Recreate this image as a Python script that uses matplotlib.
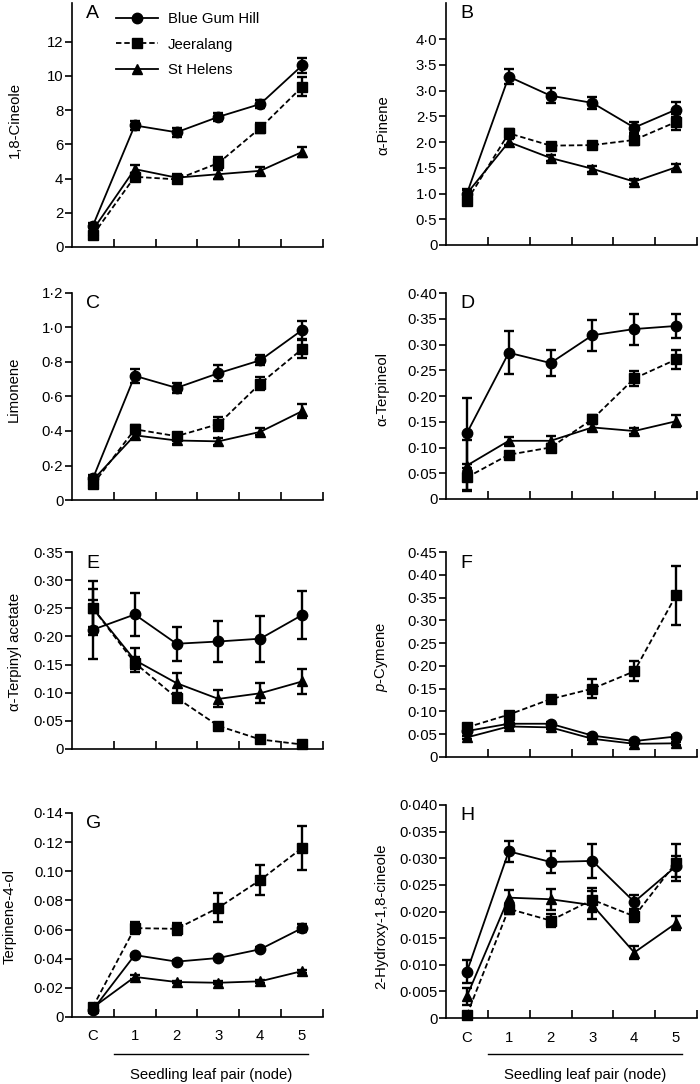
import matplotlib
matplotlib.use("Agg")
import matplotlib.pyplot as plt
import matplotlib.transforms as mtransforms
from matplotlib.lines import Line2D

plt.rcParams.update({
    'font.family': ['Liberation Sans', 'DejaVu Sans'],
    'font.size': 10.7,
    'mathtext.fontset': 'custom',
    'mathtext.it': 'Liberation Sans:italic',
    'mathtext.rm': 'Liberation Sans',
    'axes.linewidth': 1.2,
})

nodes = ['C', '1', '2', '3', '4', '5']
sites = ['Blue Gum Hill', 'Jeeralang', 'St Helens']

# rows: Blue Gum Hill, Jeeralang, St Helens
cineole_mean = [[1.25, 7.1, 6.7, 7.6, 8.35, 10.6],
                [0.7, 4.1, 3.95, 4.9, 6.95, 9.35],
                [1.0, 4.55, 4.05, 4.25, 4.45, 5.55]]
cineole_se = [[0.15, 0.25, 0.25, 0.25, 0.25, 0.45],
              [0.15, 0.2, 0.2, 0.35, 0.3, 0.55],
              [0.15, 0.25, 0.2, 0.25, 0.25, 0.3]]

pinene_mean = [[1.0, 3.27, 2.9, 2.76, 2.28, 2.63],
               [0.86, 2.17, 1.93, 1.94, 2.04, 2.39],
               [1.0, 2.0, 1.69, 1.48, 1.23, 1.51]]
pinene_se = [[0.08, 0.14, 0.14, 0.11, 0.1, 0.14],
             [0.05, 0.08, 0.06, 0.06, 0.1, 0.15],
             [0.07, 0.06, 0.06, 0.06, 0.05, 0.07]]

limonene_mean = [[0.125, 0.72, 0.65, 0.735, 0.81, 0.985],
                 [0.09, 0.41, 0.37, 0.44, 0.675, 0.875],
                 [0.115, 0.375, 0.345, 0.34, 0.395, 0.515]]
limonene_se = [[0.02, 0.04, 0.03, 0.045, 0.03, 0.05],
               [0.015, 0.025, 0.02, 0.04, 0.04, 0.05],
               [0.02, 0.02, 0.02, 0.02, 0.02, 0.04]]

terpineol_mean = [[0.128, 0.284, 0.264, 0.318, 0.33, 0.336],
                  [0.042, 0.086, 0.1, 0.155, 0.234, 0.271],
                  [0.065, 0.113, 0.113, 0.139, 0.132, 0.151]]
terpineol_se = [[0.068, 0.042, 0.025, 0.03, 0.03, 0.023],
                [0.025, 0.005, 0.006, 0.008, 0.015, 0.018],
                [0.05, 0.008, 0.009, 0.006, 0.006, 0.012]]

acetate_mean = [[0.212, 0.239, 0.187, 0.191, 0.196, 0.238],
                [0.25, 0.153, 0.091, 0.041, 0.017, 0.008],
                [0.25, 0.158, 0.117, 0.089, 0.099, 0.12]]
acetate_se = [[0.052, 0.038, 0.03, 0.037, 0.041, 0.043],
              [0.048, 0.01, 0.007, 0.004, 0.003, 0.002],
              [0.034, 0.022, 0.018, 0.015, 0.018, 0.023]]

cymene_mean = [[0.057, 0.073, 0.073, 0.047, 0.035, 0.045],
               [0.065, 0.093, 0.127, 0.15, 0.188, 0.355],
               [0.043, 0.067, 0.065, 0.04, 0.029, 0.03]]
cymene_se = [[0.004, 0.004, 0.004, 0.004, 0.003, 0.004],
             [0.006, 0.006, 0.007, 0.021, 0.022, 0.065],
             [0.004, 0.004, 0.004, 0.003, 0.003, 0.003]]

terpinen4ol_mean = [[0.005, 0.0425, 0.038, 0.0405, 0.0465, 0.061],
                    [0.007, 0.061, 0.0605, 0.075, 0.094, 0.116],
                    [0.0065, 0.0275, 0.024, 0.0235, 0.0245, 0.0315]]
terpinen4ol_se = [[0.001, 0.001, 0.001, 0.001, 0.0015, 0.003],
                  [0.001, 0.004, 0.004, 0.01, 0.0105, 0.015],
                  [0.001, 0.0015, 0.001, 0.001, 0.0012, 0.001]]

hydroxy_mean = [[0.0087, 0.0313, 0.0293, 0.0295, 0.0218, 0.0285],
                [0.0006, 0.0205, 0.0183, 0.0222, 0.0191, 0.0292],
                [0.0041, 0.0226, 0.0223, 0.0212, 0.0123, 0.0178]]
hydroxy_se = [[0.0022, 0.002, 0.002, 0.0032, 0.0013, 0.002],
              [0.0005, 0.001, 0.0012, 0.0022, 0.001, 0.0035],
              [0.0016, 0.0015, 0.002, 0.0027, 0.0012, 0.0013]]

ticks_a = [0, 2, 4, 6, 8, 10, 12]
labels_a = ['0', '2', '4', '6', '8', '10', '12']
ticks_b = [0, 0.5, 1.0, 1.5, 2.0, 2.5, 3.0, 3.5, 4.0]
labels_b = ['0', '0·5', '1·0', '1·5', '2·0', '2·5', '3·0', '3·5', '4·0']
ticks_c = [0, 0.2, 0.4, 0.6, 0.8, 1.0, 1.2]
labels_c = ['0', '0·2', '0·4', '0·6', '0·8', '1·0', '1·2']
ticks_d = [0, 0.05, 0.10, 0.15, 0.20, 0.25, 0.30, 0.35, 0.40]
labels_d = ['0', '0·05', '0·10', '0·15', '0·20', '0·25', '0·30', '0·35', '0·40']
ticks_e = [0, 0.05, 0.10, 0.15, 0.20, 0.25, 0.30, 0.35]
labels_e = ['0', '0·05', '0·10', '0·15', '0·20', '0·25', '0·30', '0·35']
ticks_f = [0, 0.05, 0.10, 0.15, 0.20, 0.25, 0.30, 0.35, 0.40, 0.45]
labels_f = ['0', '0·05', '0·10', '0·15', '0·20', '0·25', '0·30', '0·35', '0·40', '0·45']
ticks_g = [0, 0.02, 0.04, 0.06, 0.08, 0.10, 0.12, 0.14]
labels_g = ['0', '0·02', '0·04', '0·06', '0·08', '0.10', '0·12', '0·14']
ticks_h = [0, 0.005, 0.010, 0.015, 0.020, 0.025, 0.030, 0.035, 0.040]
labels_h = ['0', '0·005', '0·010', '0·015', '0·020', '0·025', '0·030', '0·035', '0·040']

W, H = 700, 1084
fig = plt.figure(figsize=(W / 100, H / 100), dpi=100)

# letter, ylabel, means, se, ticks, labels, ymax, (left, right, top, bottom) px, ylabel centre px
panels = [
    ('A', '1,8-Cineole', cineole_mean, cineole_se, ticks_a, labels_a, 14.25, (72, 323, 3, 247), (15, 120)),
    ('B', 'α-Pinene', pinene_mean, pinene_se, ticks_b, labels_b, 4.7, (446, 697, 3, 245), (383, 125)),
    ('C', 'Limonene', limonene_mean, limonene_se, ticks_c, labels_c, 1.2, (72, 323, 293, 500), (14, 389)),
    ('D', 'α-Terpineol', terpineol_mean, terpineol_se, ticks_d, labels_d, 0.40, (446, 697, 293, 499), (382, 389)),
    ('E', 'α-Terpinyl acetate', acetate_mean, acetate_se, ticks_e, labels_e, 0.35, (72, 323, 552, 749), (15, 652)),
    ('F', r'$p$-Cymene', cymene_mean, cymene_se, ticks_f, labels_f, 0.45, (446, 697, 552, 757), (382, 657)),
    ('G', 'Terpinene-4-ol', terpinen4ol_mean, terpinen4ol_se, ticks_g, labels_g, 0.14, (72, 323, 813, 1017), (10, 917)),
    ('H', '2-Hydroxy-1,8-cineole', hydroxy_mean, hydroxy_se, ticks_h, labels_h, 0.040, (446, 697, 805, 1018), (381, 916)),
]

styles = [
    dict(marker='o', ms=7.5, ls='-'),
    dict(marker='s', ms=6.5, ls=(0, (3, 1.6))),
    dict(marker='^', ms=7.5, ls='-'),
]

x = list(range(len(nodes)))
for letter, ylab, means, ses, yt, yl, ymax, (l, r, t, b), (lx, ly) in panels:
    ax = fig.add_axes([l / W, 1 - b / H, (r - l) / W, (b - t) / H])
    for k in range(3):
        st = styles[k]
        ax.errorbar(x, means[k], yerr=ses[k], color='black', lw=1.3, ls=st['ls'],
                    marker=st['marker'], ms=st['ms'], mfc='black', mec='black',
                    ecolor='black', elinewidth=1.7, capsize=3.5, capthick=1.7,
                    clip_on=False)
    ax.set_xlim(-0.5, 5.5)
    ax.set_ylim(0, ymax)
    ax.spines['top'].set_visible(False)
    ax.spines['right'].set_visible(False)
    ax.set_yticks(yt)
    ax.set_yticklabels(yl)
    ax.tick_params(axis='y', direction='out', length=4.8, width=1.2, pad=1.5)
    ax.set_xticks([i + 0.5 for i in x], minor=True)
    ax.tick_params(axis='x', which='minor', direction='in', length=5.5, width=1.2)
    ax.set_xticks(x)
    ax.tick_params(axis='x', which='major', length=0, pad=9)
    if letter in ('G', 'H'):
        ax.set_xticklabels(nodes)
        trans = mtransforms.blended_transform_factory(ax.transData, fig.transFigure)
        ax.plot([0.5, 5.15], [1 - 1054 / H] * 2, color='black', lw=1.0,
                transform=trans, clip_on=False)
        ax.text(2.825, 1 - 1075 / H, 'Seedling leaf pair (node)', transform=trans,
                ha='center', va='center')
    else:
        ax.set_xticklabels([])
    ax.set_ylabel(ylab, va='center')
    ax.yaxis.set_label_coords(lx / W, 1 - ly / H, transform=fig.transFigure)
    ty = 14 if letter in ('A', 'B') else t + 11
    ax.text((l + 14) / W, 1 - ty / H, letter, transform=fig.transFigure,
            fontsize=14, ha='left', va='center')
    if letter == 'A':
        handles = [Line2D([], [], color='black', lw=1.3, ls=st['ls'], marker=st['marker'],
                          ms=st['ms'], mfc='black', mec='black') for st in styles]
        ax.legend(handles, sites, loc='upper left',
                  bbox_to_anchor=((116 - l) / (r - l), (b - 12) / (b - t)),
                  frameon=False, numpoints=1, handlelength=2.8, handletextpad=0.67,
                  labelspacing=0.78, borderpad=0, borderaxespad=0)

fig.savefig('out.png', dpi=100)
